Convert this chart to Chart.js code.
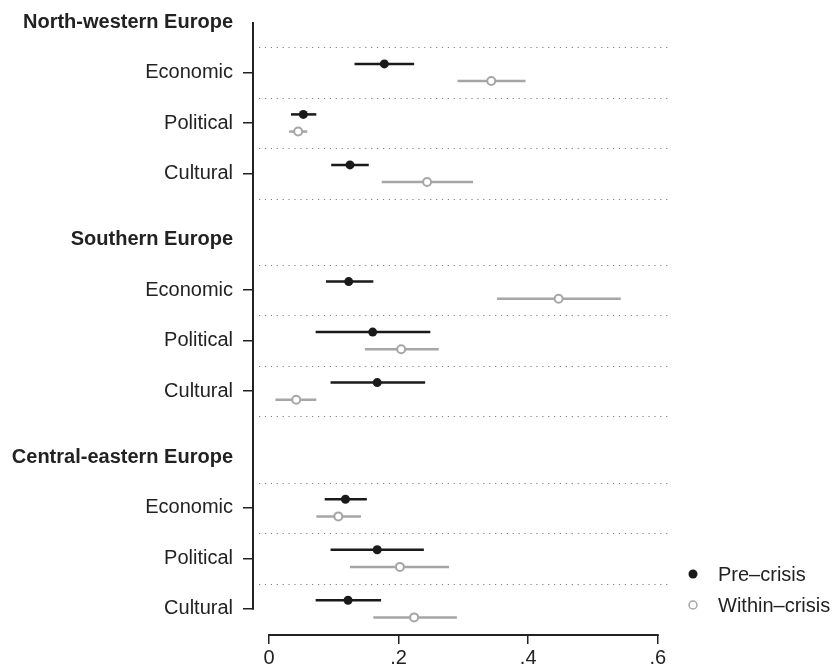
<!DOCTYPE html>
<html>
<head>
<meta charset="utf-8">
<script src="https://cdn.jsdelivr.net/npm/chart.js@4"></script>
<style>
  body { margin: 0; background: #fff; }
  canvas { display: block; }
</style>
</head>
<body>
<canvas id="coef-chart" width="833" height="664"></canvas>
<script>
"use strict";

// regions and dimensions, rows go region by region
const groups = ["North-western Europe", "Southern Europe", "Central-eastern Europe"];
const dimensions = ["Economic", "Political", "Cultural"];

// pre-crisis estimates with confidence intervals
const preCrisis = [0.178, 0.053, 0.125, 0.123, 0.160, 0.167, 0.118, 0.167, 0.122];
const preLow    = [0.132, 0.034, 0.096, 0.088, 0.072, 0.095, 0.086, 0.095, 0.072];
const preHigh   = [0.224, 0.073, 0.154, 0.161, 0.249, 0.241, 0.151, 0.239, 0.173];

// within-crisis estimates with confidence intervals
const withinCrisis = [0.343, 0.045, 0.244, 0.447, 0.204, 0.042, 0.107, 0.202, 0.224];
const withinLow    = [0.291, 0.031, 0.174, 0.352, 0.148, 0.010, 0.073, 0.125, 0.161];
const withinHigh   = [0.396, 0.059, 0.315, 0.543, 0.262, 0.073, 0.142, 0.278, 0.290];

const xTicks = [0, 0.2, 0.4, 0.6];
const xTickLabels = ["0", ".2", ".4", ".6"];

const seriesNames = ["Pre\u2013crisis", "Within\u2013crisis"];

// layout of the rows on the y scale (one unit per row)
const GROUP_STEP = 4.31;
const OFFSET = 0.17;
const PRE_COLOR = "#1a1a1a";
const WITHIN_COLOR = "#a6a6a6";
const TEXT_COLOR = "#222";
const FONT = "'Liberation Sans', Arial, Helvetica, sans-serif";

function rowPos(i) {
    let g = Math.floor(i / dimensions.length);
    let r = i % dimensions.length;
    return g * GROUP_STEP + r + 1;
}
function headerPos(g) {
    return g * GROUP_STEP;
}

const rowPositions = preCrisis.map((v, i) => rowPos(i));

// confidence interval lines, one small dataset each
function ciDatasets(low, high, color, shift) {
    return low.map((lo, i) => ({
        type: "line",
        label: "",
        data: [{x: lo, y: rowPositions[i] + shift}, {x: high[i], y: rowPositions[i] + shift}],
        borderColor: color,
        borderWidth: 2.5,
        pointRadius: 0,
        showLine: true,
        order: 5
    }));
}

const datasets = [
    {
        type: "scatter",
        label: seriesNames[0],
        data: preCrisis.map((v, i) => ({x: v, y: rowPositions[i] - OFFSET})),
        backgroundColor: PRE_COLOR,
        borderColor: PRE_COLOR,
        borderWidth: 0,
        pointRadius: 4.5,
        order: 1
    },
    {
        type: "scatter",
        label: seriesNames[1],
        data: withinCrisis.map((v, i) => ({x: v, y: rowPositions[i] + OFFSET})),
        backgroundColor: "#fff",
        borderColor: WITHIN_COLOR,
        borderWidth: 2,
        pointRadius: 4,
        order: 1
    },
    ...ciDatasets(preLow, preHigh, PRE_COLOR, -OFFSET),
    ...ciDatasets(withinLow, withinHigh, WITHIN_COLOR, OFFSET)
];

// dotted separators, group headers, axis lines and legend
const decorations = {
    id: "decorations",
    beforeDatasetsDraw(chart) {
        const ctx = chart.ctx;
        const area = chart.chartArea;
        const y = chart.scales.y;

        ctx.save();
        ctx.strokeStyle = "#808080";
        ctx.lineWidth = 1.2;
        ctx.setLineDash([1.2, 4.7]);
        groups.forEach((name, g) => {
            let first = g * dimensions.length;
            let cuts = [];
            for (let r = 0; r < dimensions.length; r++) {
                cuts.push(rowPositions[first + r] - 0.5);
            }
            if (g < groups.length - 1) {
                cuts.push(rowPositions[first + dimensions.length - 1] + 0.5);
            }
            cuts.forEach(v => {
                let py = Math.round(y.getPixelForValue(v)) + 0.5;
                ctx.beginPath();
                ctx.moveTo(area.left + 6, py);
                ctx.lineTo(area.right, py);
                ctx.stroke();
            });
        });
        ctx.restore();
    },
    afterDraw(chart) {
        const ctx = chart.ctx;
        const area = chart.chartArea;
        const x = chart.scales.x;
        const y = chart.scales.y;

        ctx.save();
        // y axis line, from first header down to the last row
        ctx.strokeStyle = TEXT_COLOR;
        ctx.lineWidth = 2;
        ctx.beginPath();
        ctx.moveTo(area.left, y.getPixelForValue(headerPos(0)));
        ctx.lineTo(area.left, y.getPixelForValue(rowPositions[rowPositions.length - 1]) + 1);
        ctx.stroke();

        // x axis line between first and last tick
        ctx.beginPath();
        ctx.moveTo(x.getPixelForValue(xTicks[0]) - 1, area.bottom);
        ctx.lineTo(x.getPixelForValue(xTicks[xTicks.length - 1]) + 1, area.bottom);
        ctx.stroke();

        // group headers
        ctx.fillStyle = TEXT_COLOR;
        ctx.font = "bold 20px " + FONT;
        ctx.textAlign = "right";
        ctx.textBaseline = "middle";
        groups.forEach((name, g) => {
            ctx.fillText(name, area.left - 20, y.getPixelForValue(headerPos(g)));
        });

        // legend
        const lx = area.right + 21;
        const ly = [area.bottom - 61, area.bottom - 30];
        ctx.font = "20px " + FONT;
        ctx.textAlign = "left";
        chart.data.datasets.slice(0, 2).forEach((ds, k) => {
            ctx.beginPath();
            ctx.arc(lx, ly[k], ds.pointRadius, 0, Math.PI * 2);
            ctx.fillStyle = ds.backgroundColor;
            ctx.fill();
            if (ds.borderWidth > 0) {
                ctx.lineWidth = 1.5;
                ctx.strokeStyle = ds.borderColor;
                ctx.stroke();
            }
            ctx.fillStyle = TEXT_COLOR;
            ctx.fillText(ds.label, lx + 25, ly[k] + 1);
        });
        ctx.restore();
    }
};

const chartEl = document.getElementById("coef-chart");

new Chart(chartEl, {
    data: { datasets: datasets },
    plugins: [decorations],
    options: {
        responsive: false,
        animation: false,
        layout: {
            padding: { top: 22, right: 161, bottom: 0, left: 0 }
        },
        plugins: {
            legend: { display: false },
            tooltip: { enabled: false }
        },
        scales: {
            x: {
                type: "linear",
                min: -0.0247,
                max: 0.622,
                border: { display: false },
                grid: {
                    drawOnChartArea: false,
                    tickLength: 9,
                    color: TEXT_COLOR,
                    lineWidth: 1.5
                },
                ticks: {
                    autoSkip: false,
                    maxRotation: 0,
                    padding: 2,
                    color: TEXT_COLOR,
                    font: { size: 20, family: FONT },
                    callback: (value, index) => xTickLabels[index]
                },
                afterBuildTicks: scale => {
                    scale.ticks = xTicks.map(v => ({ value: v }));
                },
                afterFit: scale => {
                    scale.height = 29;
                }
            },
            y: {
                type: "linear",
                reverse: true,
                min: 0,
                max: 12.139,
                border: { display: false },
                grid: {
                    drawOnChartArea: false,
                    tickLength: 10,
                    color: TEXT_COLOR,
                    lineWidth: 1.5
                },
                ticks: {
                    autoSkip: false,
                    padding: 10,
                    color: TEXT_COLOR,
                    font: { size: 20, family: FONT },
                    callback: (value, index) => dimensions[index % dimensions.length]
                },
                afterBuildTicks: scale => {
                    scale.ticks = rowPositions.map(v => ({ value: v }));
                },
                afterFit: scale => {
                    scale.width = 253;
                }
            }
        }
    }
});
</script>
</body>
</html>
